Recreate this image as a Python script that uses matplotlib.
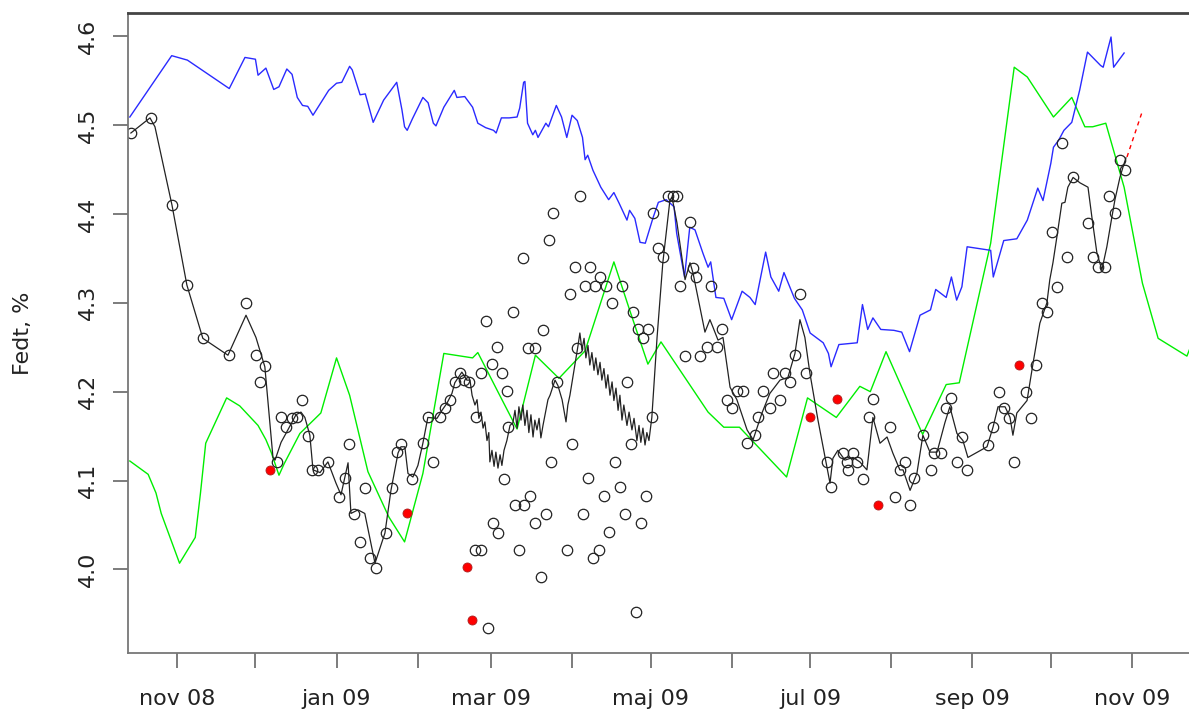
import numpy as np
import matplotlib
matplotlib.use("Agg")
import matplotlib.pyplot as plt

# x values are days counted from 1 Nov 2008, y values are fat %
start = np.datetime64("2008-11-01T00:00")

blue = [(-18, 4.509), (-2, 4.578), (4, 4.573), (20, 4.541), (26, 4.576), (30, 4.574),
        (31, 4.556), (34, 4.564), (37, 4.540), (39, 4.543), (42, 4.563), (44, 4.557),
        (46, 4.531), (48, 4.522), (50, 4.521), (52, 4.511), (58, 4.539), (61, 4.547),
        (63, 4.548), (66, 4.566), (67, 4.562), (70, 4.534), (72, 4.535), (75, 4.503),
        (79, 4.528), (81, 4.536), (84, 4.548), (86, 4.517), (87, 4.498), (88, 4.494),
        (90, 4.507), (94, 4.531), (96, 4.525), (98, 4.502), (99, 4.499), (102, 4.520),
        (106, 4.539), (107, 4.531), (110, 4.532), (113, 4.520), (115, 4.502), (118, 4.497),
        (121, 4.494), (122, 4.491), (124, 4.508), (127, 4.508), (130, 4.509), (131, 4.519),
        (132.5, 4.548), (133, 4.549), (134, 4.502), (136, 4.489), (137, 4.494), (138, 4.486),
        (141, 4.502), (142, 4.498), (145, 4.522), (147, 4.509), (149, 4.486), (151, 4.511),
        (153, 4.505), (155, 4.486), (156, 4.461), (157, 4.466), (159, 4.449), (162, 4.430),
        (165, 4.416), (167, 4.424), (169, 4.412), (172, 4.393), (173, 4.404), (175, 4.395),
        (177, 4.368), (179, 4.367), (182, 4.396), (184, 4.413), (187, 4.416), (190, 4.408),
        (191, 4.378), (194, 4.329), (196, 4.385), (198, 4.382), (201, 4.356), (203, 4.340),
        (204, 4.346), (206, 4.306), (209, 4.305), (212, 4.281), (216, 4.313), (219, 4.306),
        (221, 4.298), (225, 4.357), (227, 4.329), (230, 4.313), (232, 4.334), (236, 4.305),
        (239, 4.292), (242, 4.266), (247, 4.255), (249, 4.243), (250, 4.228), (253, 4.253),
        (260, 4.255), (262, 4.298), (264, 4.270), (266, 4.283), (269, 4.270), (274, 4.269),
        (277, 4.267), (280, 4.245), (284, 4.286), (288, 4.292), (290, 4.315), (294, 4.306),
        (296, 4.329), (298, 4.303), (300, 4.318), (302, 4.363), (311, 4.359), (312, 4.329),
        (316, 4.370), (321, 4.372), (325, 4.393), (329, 4.429), (331, 4.415), (334, 4.457),
        (335, 4.475), (337, 4.483), (339, 4.494), (342, 4.503), (345, 4.539), (348, 4.582),
        (353, 4.567), (354, 4.565), (357, 4.599), (358, 4.565), (362, 4.581)]

green = [(-18, 4.122), (-11, 4.107), (-8, 4.086), (-6, 4.063), (1, 4.007), (7, 4.036),
         (9, 4.086), (11, 4.142), (19, 4.193), (24, 4.184), (31, 4.162), (34, 4.146),
         (36, 4.132), (39, 4.106), (41, 4.119), (47, 4.153), (55, 4.176), (61, 4.238),
         (66, 4.196), (73, 4.110), (81, 4.059), (87, 4.031), (94, 4.108), (102, 4.243),
         (113, 4.238), (115, 4.244), (123, 4.198), (130, 4.158), (137, 4.241), (146, 4.215),
         (156, 4.246), (167, 4.346), (173, 4.292), (180, 4.231), (185, 4.256), (203, 4.177),
         (209, 4.160), (215, 4.160), (233, 4.104), (241, 4.193), (252, 4.171), (261, 4.206),
         (265, 4.200), (271, 4.245), (285, 4.152), (294, 4.208), (299, 4.210), (311, 4.367),
         (320, 4.565), (325, 4.554), (335, 4.509), (342, 4.531), (347, 4.498), (350, 4.498),
         (355, 4.502), (362, 4.430), (369, 4.322), (375, 4.260), (386, 4.240), (388, 4.255)]

black = [(-17.6, 4.491), (-10.3, 4.508), (-8.4, 4.498), (-1.9, 4.410), (3.8, 4.320),
         (9.9, 4.260), (19.5, 4.241), (26.4, 4.286), (30.2, 4.261), (33.6, 4.228),
         (36.7, 4.126), (37.5, 4.123), (39.8, 4.143), (42.4, 4.157), (45.5, 4.174),
         (47.4, 4.177), (48.9, 4.171), (50.8, 4.151), (52.0, 4.112), (54.7, 4.109),
         (57.7, 4.121), (60.8, 4.097), (62.7, 4.084), (65.4, 4.120), (66.5, 4.063),
         (69.2, 4.067), (71.8, 4.063), (75.7, 4.007), (79.5, 4.041), (81.8, 4.089),
         (84.5, 4.131), (85.6, 4.138), (87.1, 4.138), (88.3, 4.108), (90.2, 4.104),
         (92.1, 4.117), (94.0, 4.142), (95.9, 4.171), (99.4, 4.170), (101.3, 4.179),
         (103.2, 4.187), (105.1, 4.198), (106.2, 4.210), (108.9, 4.222), (110.8, 4.213),
         (112.0, 4.213), (112.8, 4.196), (113.9, 4.185), (114.7, 4.191), (115.4, 4.170),
         (116.2, 4.177), (117.0, 4.159), (117.7, 4.166), (118.5, 4.145), (119.2, 4.154),
         (119.6, 4.121), (120.4, 4.134), (121.2, 4.116), (121.9, 4.132), (122.7, 4.114),
         (123.5, 4.129), (124.2, 4.117), (125.0, 4.134), (126.1, 4.145), (127.3, 4.162),
         (128.4, 4.165), (129.2, 4.179), (130.0, 4.159), (130.7, 4.183), (131.5, 4.168),
         (132.2, 4.185), (133.0, 4.162), (133.8, 4.179), (134.5, 4.154), (135.3, 4.174),
         (136.1, 4.149), (136.8, 4.168), (137.6, 4.157), (138.4, 4.170), (139.1, 4.148),
         (139.9, 4.162), (141.0, 4.179), (141.8, 4.191), (142.6, 4.196), (144.5, 4.213),
         (145.6, 4.207), (147.2, 4.191), (148.7, 4.166), (149.4, 4.185), (150.2, 4.196),
         (152.1, 4.230), (153.3, 4.252), (154.0, 4.266), (154.8, 4.247), (155.6, 4.260),
         (156.3, 4.238), (157.1, 4.252), (157.8, 4.230), (158.6, 4.244), (159.4, 4.224),
         (160.1, 4.238), (160.9, 4.219), (161.7, 4.233), (162.4, 4.213), (163.2, 4.226),
         (164.0, 4.204), (164.7, 4.219), (165.5, 4.196), (166.3, 4.211), (167.0, 4.190),
         (167.8, 4.204), (168.6, 4.179), (169.3, 4.196), (170.1, 4.168), (170.8, 4.185),
         (172.0, 4.162), (172.8, 4.177), (173.9, 4.157), (174.7, 4.170), (175.8, 4.145),
         (176.6, 4.162), (177.3, 4.143), (178.1, 4.159), (178.9, 4.140), (179.6, 4.154),
         (180.4, 4.145), (181.5, 4.171), (183.5, 4.261), (185.7, 4.345), (188.4, 4.415),
         (189.2, 4.419), (191.1, 4.390), (194.2, 4.326), (196.1, 4.345), (197.2, 4.334),
         (201.8, 4.267), (203.7, 4.281), (204.8, 4.273), (206.8, 4.258), (208.7, 4.261),
         (211.4, 4.205), (214.0, 4.191), (217.9, 4.157), (220.2, 4.146), (223.6, 4.176),
         (226.6, 4.198), (230.5, 4.213), (233.5, 4.216), (236.2, 4.243), (238.1, 4.281),
         (240.0, 4.261), (241.9, 4.221), (245.0, 4.168), (247.7, 4.126), (249.6, 4.097),
         (250.7, 4.125), (252.6, 4.134), (255.3, 4.123), (258.4, 4.126), (261.0, 4.121),
         (263.7, 4.112), (266.0, 4.171), (268.7, 4.142), (271.4, 4.149), (273.6, 4.131),
         (276.3, 4.112), (277.5, 4.112), (280.2, 4.089), (282.8, 4.108), (285.1, 4.151),
         (287.8, 4.132), (290.5, 4.132), (293.5, 4.165), (295.4, 4.183), (298.1, 4.153),
         (300.4, 4.145), (302.3, 4.126), (309.6, 4.138), (311.9, 4.160), (313.8, 4.183),
         (316.5, 4.183), (318.4, 4.171), (319.5, 4.151), (321.0, 4.176), (324.9, 4.190),
         (327.2, 4.232), (329.8, 4.277), (332.5, 4.300), (333.6, 4.326), (334.8, 4.345),
         (336.3, 4.374), (338.2, 4.412), (339.4, 4.413), (340.5, 4.430), (342.5, 4.441),
         (345.1, 4.435), (348.2, 4.430), (349.7, 4.396), (351.6, 4.356), (353.5, 4.337),
         (355.4, 4.363), (357.3, 4.396), (358.5, 4.416), (360.4, 4.441), (361.6, 4.453),
         (362.7, 4.463)]

obs = [(-17.6, 4.491), (-9.9, 4.508), (-1.9, 4.410), (3.8, 4.320), (9.9, 4.260),
       (19.9, 4.241), (26.4, 4.300), (30.2, 4.241), (31.7, 4.211), (33.6, 4.229),
       (38.2, 4.121), (39.7, 4.171), (41.7, 4.160), (44.0, 4.170), (45.9, 4.171),
       (47.8, 4.191), (50.1, 4.150), (51.6, 4.112), (53.9, 4.112), (57.7, 4.121),
       (61.9, 4.081), (64.2, 4.103), (65.7, 4.141), (67.6, 4.062), (69.9, 4.031),
       (71.9, 4.092), (73.8, 4.013), (76.1, 4.002), (79.9, 4.041), (82.2, 4.092),
       (84.1, 4.132), (85.6, 4.141), (89.8, 4.102), (94.0, 4.142), (95.9, 4.171),
       (97.8, 4.121), (100.5, 4.171), (102.4, 4.182), (104.3, 4.191), (106.3, 4.211),
       (108.2, 4.221), (109.7, 4.213), (111.6, 4.211), (114.3, 4.171), (113.9, 4.022),
       (116.2, 4.022), (116.2, 4.221), (118.1, 4.279), (118.9, 3.934), (120.4, 4.231),
       (120.8, 4.052), (122.7, 4.041), (122.3, 4.250), (124.2, 4.221), (125.0, 4.102),
       (126.1, 4.201), (126.5, 4.160), (128.4, 4.290), (129.2, 4.072), (130.7, 4.022),
       (132.2, 4.350), (132.6, 4.072), (134.2, 4.249), (134.9, 4.083), (136.8, 4.249),
       (136.8, 4.052), (139.1, 3.991), (139.9, 4.269), (141.0, 4.062), (142.2, 4.371),
       (142.9, 4.121), (143.7, 4.401), (145.2, 4.211), (149.1, 4.022), (150.2, 4.310),
       (151.0, 4.141), (152.1, 4.340), (152.9, 4.249), (154.0, 4.420), (155.2, 4.062),
       (155.9, 4.319), (157.1, 4.103), (157.8, 4.340), (159.0, 4.013), (159.8, 4.319),
       (161.3, 4.022), (161.7, 4.329), (163.2, 4.083), (164.0, 4.319), (165.1, 4.042),
       (166.3, 4.300), (167.4, 4.121), (169.3, 4.093), (170.1, 4.319), (171.2, 4.062),
       (172.0, 4.211), (173.5, 4.141), (174.3, 4.290), (175.4, 3.952), (176.2, 4.270),
       (177.3, 4.052), (178.1, 4.260), (179.2, 4.083), (180.0, 4.270), (181.5, 4.171),
       (181.9, 4.401), (183.8, 4.362), (185.7, 4.351), (187.7, 4.420), (189.6, 4.420),
       (191.1, 4.420), (192.2, 4.319), (194.2, 4.240), (196.1, 4.391), (197.2, 4.339),
       (198.4, 4.329), (199.9, 4.240), (202.6, 4.250), (204.1, 4.319), (206.4, 4.250),
       (208.3, 4.270), (210.2, 4.191), (212.1, 4.182), (214.0, 4.201), (216.3, 4.201),
       (217.9, 4.142), (220.9, 4.151), (222.1, 4.171), (224.0, 4.201), (226.6, 4.182),
       (227.8, 4.221), (230.5, 4.191), (232.4, 4.221), (234.3, 4.211), (236.2, 4.241),
       (238.1, 4.310), (240.4, 4.221), (248.4, 4.121), (250.0, 4.093), (254.5, 4.131),
       (256.1, 4.121), (256.5, 4.112), (258.4, 4.131), (259.9, 4.121), (262.2, 4.102),
       (264.5, 4.171), (266.0, 4.192), (272.5, 4.160), (274.4, 4.081), (276.3, 4.112),
       (278.2, 4.121), (280.2, 4.072), (281.7, 4.103), (285.1, 4.151), (288.2, 4.112),
       (289.3, 4.131), (292.0, 4.131), (293.9, 4.182), (295.8, 4.193), (298.1, 4.121),
       (300.0, 4.149), (301.9, 4.112), (310.0, 4.140), (311.9, 4.160), (314.2, 4.200),
       (316.1, 4.182), (318.0, 4.170), (319.9, 4.121), (324.5, 4.200), (326.4, 4.170),
       (328.3, 4.230), (330.6, 4.300), (332.5, 4.290), (334.4, 4.380), (336.3, 4.318),
       (338.2, 4.480), (340.2, 4.351), (342.5, 4.441), (348.2, 4.390), (350.1, 4.351),
       (352.0, 4.340), (354.7, 4.340), (356.2, 4.420), (358.5, 4.401), (360.4, 4.461),
       (362.3, 4.449)]

red_pts = [(35.5, 4.112), (87.9, 4.063), (110.8, 4.003), (112.8, 3.943),
           (241.9, 4.171), (252.3, 4.192), (267.9, 4.072), (321.8, 4.230)]

forecast = [(363.1, 4.464), (368.8, 4.514)]

month_labels = ["nov 08", "", "jan 09", "", "mar 09", "", "maj 09", "",
                "jul 09", "", "sep 09", "", "nov 09"]


def to_dates(pairs):
    arr = np.array(pairs, dtype=float)
    secs = np.round(arr[:, 0] * 86400).astype("int64").astype("timedelta64[s]")
    return start + secs, arr[:, 1]


plt.rcParams["font.family"] = "DejaVu Sans"
fig = plt.figure(figsize=(11.89, 7.15), dpi=100)
ax = fig.add_axes([128 / 1189, 62 / 715, 1 - 128 / 1189, 640 / 715])

x, y = to_dates(green)
ax.plot(x, y, color="#00ee00", lw=1.0)
x, y = to_dates(blue)
ax.plot(x, y, color="#2a2aff", lw=1.0)
x, y = to_dates(black)
ax.plot(x, y, color="#222222", lw=0.9)
x, y = to_dates(obs)
ax.plot(x, y, "o", ms=7.5, mfc="none", mec="#222222", mew=0.9)
x, y = to_dates(red_pts)
ax.plot(x, y, "o", ms=6.5, mfc="red", mec="#aa2222", mew=0.6)
x, y = to_dates(forecast)
ax.plot(x, y, color="red", lw=1.0, ls=(0, (3, 3)))

x0, _ = to_dates([(-18.7, 0), (386.8, 0)])
ax.set_xlim(x0[0], x0[1])
ax.set_ylim(3.906, 4.626)

ticks = [np.datetime64(f"{yr}-{m:02d}-01") for yr, m in
         [(2008, 11), (2008, 12)] + [(2009, m) for m in range(1, 12)]]
ax.set_xticks(ticks)
ax.set_xticklabels(month_labels)
ax.set_yticks([4.0, 4.1, 4.2, 4.3, 4.4, 4.5, 4.6])
ax.set_yticklabels(["4.0", "4.1", "4.2", "4.3", "4.4", "4.5", "4.6"],
                   rotation=90, va="center")

ax.tick_params(axis="x", length=11, width=1.2, color="#666666", pad=15,
               labelsize=16, labelcolor="#222222")
ax.tick_params(axis="y", length=11, width=1.2, color="#666666", pad=11,
               labelsize=16, labelcolor="#222222")
ax.set_ylabel("Fedt, %", fontsize=16, color="#222222")
ax.yaxis.set_label_coords(-0.09, 0.5)

ax.spines["right"].set_visible(False)
ax.spines["top"].set_color("#444444")
ax.spines["top"].set_linewidth(2)
for s in ("left", "bottom"):
    ax.spines[s].set_color("#777777")
    ax.spines[s].set_linewidth(1.3)

fig.savefig("out.png", dpi=100)
